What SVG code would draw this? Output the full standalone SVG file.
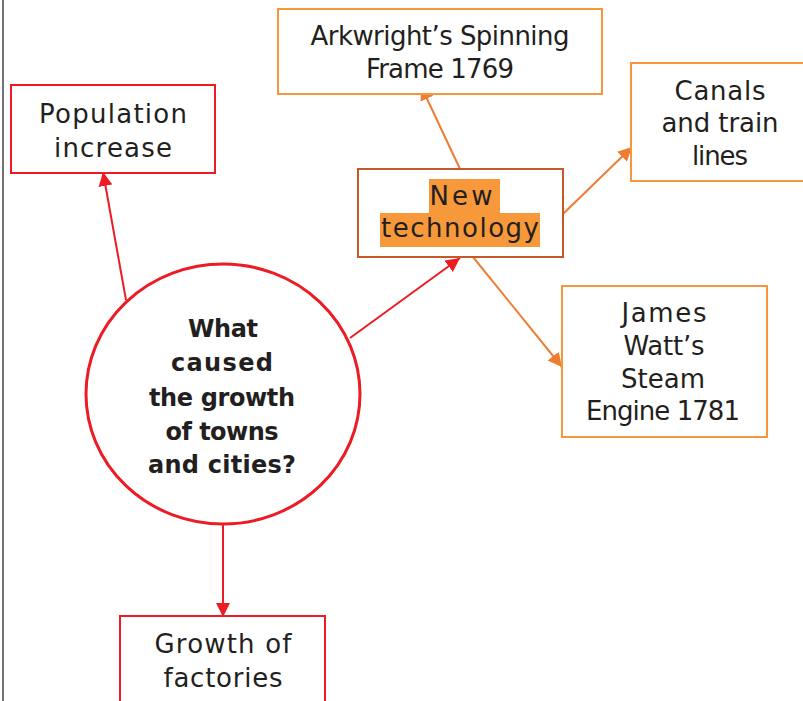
<svg xmlns="http://www.w3.org/2000/svg" width="803" height="701" viewBox="0 0 803 701">
<style>
.t{font-family:"DejaVu Sans","Liberation Sans",sans-serif;font-size:26px;fill:#231f20;text-anchor:middle}
.b{font-family:"DejaVu Sans","Liberation Sans",sans-serif;font-size:24px;font-weight:bold;fill:#231f20;text-anchor:middle}
.red{fill:#fff;stroke:#ed1c24;stroke-width:2}
.org{fill:#fff;stroke:#f7963a;stroke-width:2}
.lr{stroke:#ed1c24;stroke-width:2;fill:none}
.lo{stroke:#ed7d31;stroke-width:2;fill:none}
</style>
<defs>
<marker id="ar" viewBox="0 0 10 10" refX="10" refY="5" markerWidth="7" markerHeight="7" markerUnits="strokeWidth" orient="auto"><path d="M0,0L10,5L0,10z" fill="#ed1c24"/></marker>
<marker id="ao" viewBox="0 0 10 10" refX="10" refY="5" markerWidth="7" markerHeight="7" markerUnits="strokeWidth" orient="auto"><path d="M0,0L10,5L0,10z" fill="#ed7d31"/></marker>
</defs>
<rect width="803" height="701" fill="#fff"/>
<line x1="3" y1="0" x2="3" y2="701" stroke="#444" stroke-width="1.5"/>
<g id="connectors">
<line class="lr" x1="126" y1="300" x2="103" y2="172" marker-end="url(#ar)"/>
<line class="lr" x1="350" y1="338" x2="460" y2="258" marker-end="url(#ar)"/>
<line class="lr" x1="223" y1="525" x2="223" y2="617" marker-end="url(#ar)"/>
<line class="lo" x1="460" y1="169" x2="421" y2="86" marker-end="url(#ao)"/>
<line class="lo" x1="563" y1="214" x2="632" y2="147" marker-end="url(#ao)"/>
<line class="lo" x1="473" y1="257" x2="562" y2="367" marker-end="url(#ao)"/>
</g>
<g id="population">
<rect class="red" x="11" y="85" width="204" height="88"/>
<text class="t" x="113" y="123" textLength="148">Population</text>
<text class="t" x="113" y="157" textLength="118">increase</text>
</g>
<g id="arkwright">
<rect class="org" x="278" y="9" width="324" height="85"/>
<text class="t" x="440" y="45" textLength="259">Arkwright’s Spinning</text>
<text class="t" x="440" y="78" textLength="148">Frame 1769</text>
</g>
<g id="canals">
<rect class="org" x="631" y="63" width="180" height="118"/>
<text class="t" x="720" y="100" textLength="91">Canals</text>
<text class="t" x="720" y="132" textLength="117">and train</text>
<text class="t" x="720" y="165" textLength="56">lines</text>
</g>
<g id="newtech">
<rect x="358" y="169" width="205" height="88" fill="#fff" stroke="#c55a28" stroke-width="2"/>
<rect x="429" y="179" width="71" height="34" fill="#f7993a"/>
<rect x="380" y="213" width="160" height="34" fill="#f7993a"/>
<text class="t" x="461" y="205" textLength="63">New</text>
<text class="t" x="460" y="237" textLength="158">technology</text>
</g>
<g id="watt">
<rect class="org" x="562" y="286" width="205" height="151"/>
<text class="t" x="664" y="322" textLength="85">James</text>
<text class="t" x="664" y="355" textLength="81">Watt’s</text>
<text class="t" x="663" y="388" textLength="84">Steam</text>
<text class="t" x="663" y="420" textLength="154">Engine 1781</text>
</g>
<g id="factories">
<rect class="red" x="120" y="616" width="205" height="100"/>
<text class="t" x="223" y="653" textLength="137">Growth of</text>
<text class="t" x="223" y="687" textLength="119">factories</text>
</g>
<g id="centre">
<ellipse cx="223" cy="394" rx="137" ry="130" fill="#fff" stroke="#ed1c24" stroke-width="3"/>
<text class="b" x="223" y="337" textLength="70">What</text>
<text class="b" x="222" y="371" textLength="102">caused</text>
<text class="b" x="222" y="406" textLength="146">the growth</text>
<text class="b" x="222" y="440" textLength="113">of towns</text>
<text class="b" x="222" y="473" textLength="148">and cities?</text>
</g>
</svg>
